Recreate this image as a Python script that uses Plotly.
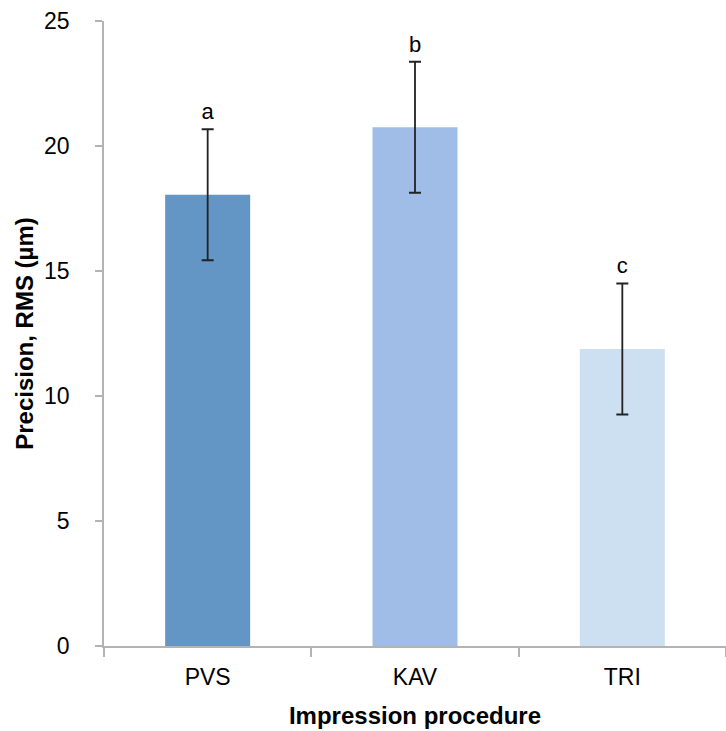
import plotly.graph_objects as go

categories = ["PVS", "KAV", "TRI"]
means = [18.05, 20.75, 11.88]
sds = [2.62, 2.62, 2.62]
letters = ["a", "b", "c"]
colors = ["#6395C5", "#A0BDE7", "#CDE0F2"]
y_ticks = [0, 5, 10, 15, 20, 25]

FONT = "Liberation Sans, Arial, Helvetica, sans-serif"

fig = go.Figure()
fig.add_trace(go.Bar(
    x=categories, y=means, marker=dict(color=colors, line=dict(width=0)),
    width=0.41,
    error_y=dict(type="data", array=sds, visible=True, color="#222222",
                 thickness=1.8, width=6),
    showlegend=False,
))
fig.add_trace(go.Scatter(
    x=categories, y=[m + s for m, s in zip(means, sds)], mode="markers+text",
    marker=dict(size=6, color="rgba(0,0,0,0)"),
    text=letters, textposition="top center",
    textfont=dict(family=FONT, size=22, color="black"),
    showlegend=False, cliponaxis=False, hoverinfo="skip",
))

axis_line = "#B3B3B3"
fig.update_layout(
    width=726, height=731,
    margin=dict(l=104, r=0, t=21, b=85),
    plot_bgcolor="white", paper_bgcolor="white",
    font=dict(family=FONT, color="black"),
    xaxis=dict(
        type="category", range=[-0.5, 2.5], automargin=False,
        showline=True, linecolor=axis_line, linewidth=1.5,
        ticks="outside", tickson="boundaries", ticklen=9, tickcolor=axis_line,
        tickwidth=1.5, showgrid=False, ticklabelstandoff=10,
        tickfont=dict(size=23, family=FONT),
        title=dict(text="<b>Impression procedure</b>", font=dict(size=24, family=FONT),
                   standoff=18),
    ),
    yaxis=dict(
        range=[0, 25], tickvals=y_ticks, automargin=False,
        showline=True, linecolor=axis_line, linewidth=1.5,
        ticks="outside", ticklen=7, tickcolor=axis_line, tickwidth=1.5,
        showgrid=False, zeroline=False, ticklabelstandoff=21,
        tickfont=dict(size=23, family=FONT),
        title=dict(text="<b>Precision, RMS (µm)</b>", font=dict(size=24, family=FONT),
                   standoff=4),
    ),
    yaxis2=dict(
        overlaying="y", side="left", range=[0, 25], tickvals=y_ticks, automargin=False,
        ticks="inside", ticklen=8, tickcolor=axis_line, tickwidth=1.5,
        showticklabels=False, showgrid=False, zeroline=False, showline=False,
    ),
    xaxis2=dict(
        overlaying="x", side="bottom", range=[-0.5, 2.5], automargin=False,
        tickvals=[-0.5, 0.5, 1.5, 2.5],
        ticks="inside", ticklen=7, tickcolor=axis_line, tickwidth=1.5,
        showticklabels=False, showgrid=False, zeroline=False, showline=False,
    ),
)

fig.write_html(
    "out.html",
    config={"displayModeBar": False},
    post_script="document.body.style.margin='0';document.body.style.overflow='hidden';",
)
